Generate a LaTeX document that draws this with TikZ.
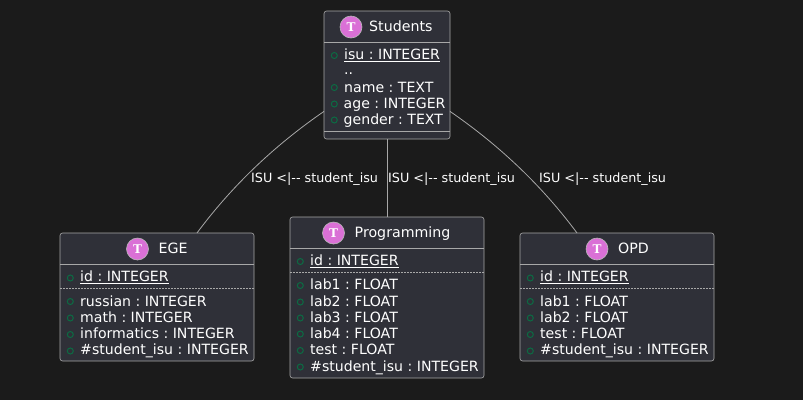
\documentclass[tikz,border=0pt]{standalone}
\usepackage{fontspec}
\setmainfont{DejaVu Sans}
\newfontfamily\serifT{DejaVu Serif}
\newcommand\ulx[1]{\setbox0\hbox{#1}\rlap{\rule[-2.4pt]{\wd0}{0.8pt}}\box0}
\definecolor{bg}{HTML}{1B1B1B}
\definecolor{boxfill}{HTML}{2F3038}
\definecolor{edge}{HTML}{A8A8A8}
\definecolor{pink}{HTML}{DA70D6}
\definecolor{dotgreen}{HTML}{0B6B43}
\tikzset{
  tablebox/.style={draw=edge,fill=boxfill,line width=0.6pt,rounded corners=2.5pt,inner sep=0pt,outer sep=0pt,minimum width=#1},
  title/.style={text=white,font=\frenchspacing\fontsize{14.2}{14}\selectfont,anchor=base west,inner sep=0pt},
  row/.style={text=white,font=\frenchspacing\fontsize{14.1}{14}\selectfont,anchor=base west,inner sep=0pt},
  elabel/.style={text=white,font=\frenchspacing\fontsize{12.75}{13}\selectfont,anchor=base west,inner sep=0pt},
  badge/.style={circle,draw=edge!80!white,fill=pink,line width=0.6pt,minimum size=22pt,inner sep=0pt,text=white,font=\serifT\bfseries\fontsize{12}{12}\selectfont},
  bullet/.style={circle,draw=dotgreen,line width=1pt,minimum size=6pt,inner sep=0pt},
  rule/.style={draw=edge,line width=0.6pt},
  dotrule/.style={draw=edge,line width=0.6pt,dash pattern=on 1.5pt off 1.5pt},
  conn/.style={draw=edge,line width=0.8pt}
}
\begin{document}
\begin{tikzpicture}[x=1pt,y=-1pt]
\useasboundingbox[fill=bg] (0,0) rectangle (803,400);
\node[tablebox=126pt,minimum height=128pt] (students) at (387,75) {};
\node[tablebox=194pt,minimum height=128pt] (ege) at (157,297) {};
\node[tablebox=194pt,minimum height=161pt] (prog) at (387,297.5) {};
\node[tablebox=194pt,minimum height=128pt] (opd) at (617,297) {};
\draw[conn] (students.210) .. controls (278,143) and (234,183) .. (ege.58);
\draw[conn] (students.south) -- (prog.north);
\draw[conn] (students.330) .. controls (496,143) and (540,183) .. (opd.122);
\node[elabel] (l1) at (251,182.5) {ISU <|-{}- student\_isu};
\node[elabel] (l2) at (388,182.5) {ISU <|-{}- student\_isu};
\node[elabel] (l3) at (539,182.5) {ISU <|-{}- student\_isu};
% Students
\node[badge] (bs) at (351,27) {T};
\node[title] (ts) at (369,31) {Students};
\draw[rule] (324,42.5) -- (450,42.5);
\draw[rule] (324,131) -- (450,131);
\node[bullet] (s1b) at (334.3,55.5) {};
\node[row] (s1) at (344,59.5) {\ulx{isu : INTEGER}};
\node[row] (s0) at (344,74.5) {..};
\node[bullet] (s2b) at (334.3,87.5) {};
\node[row] (s2) at (344,92) {name : TEXT};
\node[bullet] (s3b) at (334.3,104) {};
\node[row] (s3) at (343.5,108) {age : INTEGER};
\node[bullet] (s4b) at (334.3,120) {};
\node[row] (s4) at (343.5,124) {gender : TEXT};
% EGE
\node[badge] (be) at (137.5,249) {T};
\node[title] (te) at (158.5,253) {EGE};
\draw[rule] (60,264.5) -- (254,264.5);
\draw[dotrule] (60,288.5) -- (254,288.5);
\node[bullet] (e1b) at (70.3,278) {};
\node[row] (e1) at (80,281.5) {\ulx{id : INTEGER}};
\node[bullet] (e2b) at (70.3,301.5) {};
\node[row] (e2) at (80,306) {russian : INTEGER};
\node[bullet] (e3b) at (70.3,318) {};
\node[row] (e3) at (80,322) {math : INTEGER};
\node[bullet] (e4b) at (70.3,334.5) {};
\node[row] (e4) at (80,338) {informatics : INTEGER};
\node[bullet] (e5b) at (70.3,351) {};
\node[row] (e5) at (80,354.5) {\#student\_isu : INTEGER};
% Programming
\node[badge] (bp) at (333.5,233) {T};
\node[title] (tp) at (354.5,237) {Programming};
\draw[rule] (290,248.5) -- (484,248.5);
\draw[dotrule] (290,272.5) -- (484,272.5);
\node[bullet] (p1b) at (300.3,261.5) {};
\node[row] (p1) at (310,265.5) {\ulx{id : INTEGER}};
\node[bullet] (p2b) at (300.3,285.5) {};
\node[row] (p2) at (310,289.5) {lab1 : FLOAT};
\node[bullet] (p3b) at (300.3,302) {};
\node[row] (p3) at (310,306) {lab2 : FLOAT};
\node[bullet] (p4b) at (300.3,318) {};
\node[row] (p4) at (310,322) {lab3 : FLOAT};
\node[bullet] (p5b) at (300.3,334) {};
\node[row] (p5) at (310,338) {lab4 : FLOAT};
\node[bullet] (p6b) at (300.3,350.5) {};
\node[row] (p6) at (310,354.5) {test : FLOAT};
\node[bullet] (p7b) at (300.3,367) {};
\node[row] (p7) at (310,371) {\#student\_isu : INTEGER};
% OPD
\node[badge] (bo) at (597,249) {T};
\node[title] (to) at (618,253) {OPD};
\draw[rule] (520,264.5) -- (714,264.5);
\draw[dotrule] (520,288.5) -- (714,288.5);
\node[bullet] (o1b) at (530.3,278) {};
\node[row] (o1) at (540,281.5) {\ulx{id : INTEGER}};
\node[bullet] (o2b) at (530.3,301.5) {};
\node[row] (o2) at (540,306) {lab1 : FLOAT};
\node[bullet] (o3b) at (530.3,318) {};
\node[row] (o3) at (540,322) {lab2 : FLOAT};
\node[bullet] (o4b) at (530.3,334.5) {};
\node[row] (o4) at (540,338) {test : FLOAT};
\node[bullet] (o5b) at (530.3,351) {};
\node[row] (o5) at (540,354.5) {\#student\_isu : INTEGER};
\end{tikzpicture}
\end{document}
